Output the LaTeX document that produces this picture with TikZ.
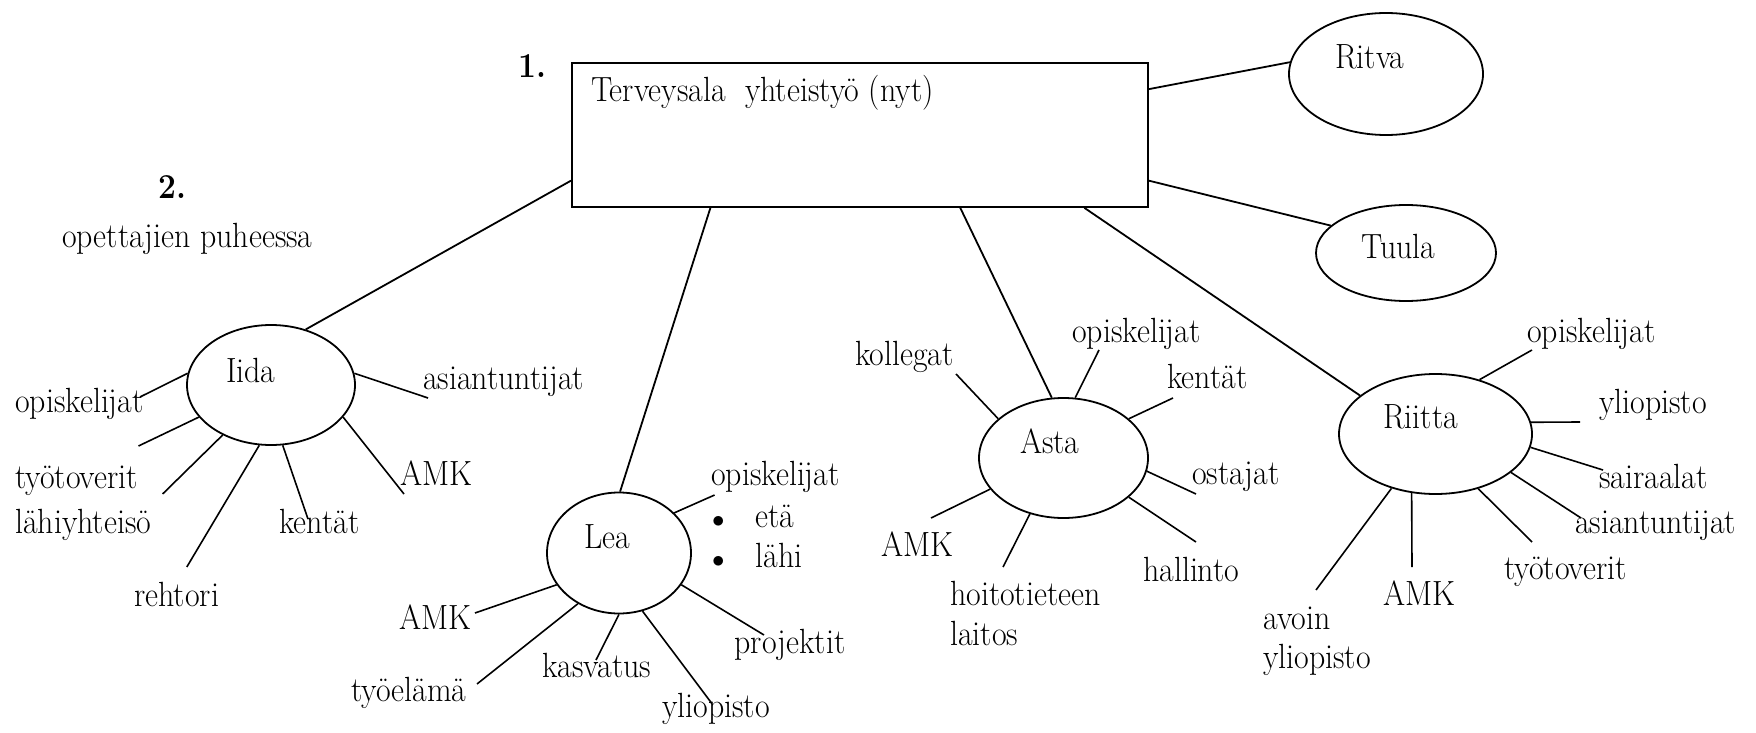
\documentclass[tikz,border=0pt]{standalone}
\usepackage{fontspec}
\setmainfont{Latin Modern Roman}[FakeStretch=0.91]
\usetikzlibrary{shapes.geometric}

\tikzset{
  lbl/.style={anchor=base west,inner sep=0pt,font=\fontsize{35}{42}\selectfont},
  numlbl/.style={anchor=base west,inner sep=0pt,font=\fontsize{35}{42}\selectfont\bfseries},
  bubble/.style={draw,ellipse,line width=1.8pt,inner sep=0pt},
  link/.style={line width=1.8pt},
  spoke/.style={line width=1.6pt},
}

\begin{document}
\begin{tikzpicture}[x=1pt,y=-1pt]
\path[use as bounding box] (0,0) rectangle (1756,733);
\fill[white] (0,0) rectangle (1756,733);

% otsikot
\node[numlbl] (n1) at (518,78) {1.};
\node[numlbl] (n2) at (158,198) {2.};
\node[lbl] (puhe) at (62,247) {opettajien puheessa};

% keskus
\node[draw,line width=1.8pt,anchor=north west,minimum width=576pt,minimum height=144pt,inner sep=0pt] (hub) at (571,62) {};
\node[lbl] (hubtxt) at (591,102) {Terveysala\ \ yhteistyö (nyt)};

% henkilöt
\node[bubble,minimum width=194pt,minimum height=122pt] (ritva) at (1386,74) {};
\node[lbl] (ritvatxt) at (1335,69) {Ritva};
\node[bubble,minimum width=180pt,minimum height=96pt] (tuula) at (1406,253) {};
\node[lbl] (tuulatxt) at (1361,258) {Tuula};
\node[bubble,minimum width=168pt,minimum height=120pt] (iida) at (271,385) {};
\node[lbl] (iidatxt) at (226,382) {Iida};
\node[bubble,minimum width=144pt,minimum height=121pt] (lea) at (619,553) {};
\node[lbl] (leatxt) at (584,548) {Lea};
\node[bubble,minimum width=169pt,minimum height=120pt] (asta) at (1063.5,458) {};
\node[lbl] (astatxt) at (1020,453) {Asta};
\node[bubble,minimum width=193pt,minimum height=120pt] (riitta) at (1435.5,434) {};
\node[lbl] (riittatxt) at (1383,428) {Riitta};

\draw[link] (hub.9.7) -- (ritva.173);
\draw[link] (hub.-9.5) -- (tuula.160);
\draw[link] (hub.189.5) -- (iida.58);
\draw[link] (hub.206.6) -- (lea.89);
\draw[link] (hub.-36.9) -- (asta.101);
\draw[link] (hub.-18.4) -- (riitta.153);

% Iida
\node[lbl] (i-opis) at (15,412) {opiskelijat};
\node[lbl] (i-tyot) at (15,488) {työtoverit};
\node[lbl] (i-lahi) at (15,533) {lähiyhteisö};
\node[lbl] (i-reht) at (134,606) {rehtori};
\node[lbl] (i-kent) at (279,533) {kentät};
\node[lbl] (i-amk) at (400,485) {AMK};
\node[lbl] (i-asia) at (423,389) {asiantuntijat};
\coordinate (i-opis-e) at (140,397);
\coordinate (i-tyot-e) at (138.5,446);
\coordinate (i-lahi-e) at (162.6,494);
\coordinate (i-reht-e) at (186.8,567);
\coordinate (i-kent-e) at (308,519);
\coordinate (i-amk-e) at (404,494);
\coordinate (i-asia-e) at (428,398);
\draw[spoke] (iida.172) -- (i-opis-e);
\draw[spoke] (iida.204) -- (i-tyot-e);
\draw[spoke] (iida.226) -- (i-lahi-e);
\draw[spoke] (iida.259) -- (i-reht-e);
\draw[spoke] (iida.281) -- (i-kent-e);
\draw[spoke] (iida.336) -- (i-amk-e);
\draw[spoke] (iida.8) -- (i-asia-e);

% Lea
\node[lbl] (l-opis) at (711,485) {opiskelijat};
\node[lbl] (l-eta) at (712,527) {$\bullet$\hspace{31pt}etä};
\node[lbl] (l-lahi) at (712,567) {$\bullet$\hspace{31pt}lähi};
\node[lbl] (l-amk) at (399,629) {AMK};
\node[lbl] (l-tyoe) at (351,701) {työelämä};
\node[lbl] (l-kasv) at (542,677) {kasvatus};
\node[lbl] (l-ylio) at (662,717) {yliopisto};
\node[lbl] (l-proj) at (734.5,653) {projektit};
\coordinate (l-opis-e) at (714.6,495);
\coordinate (l-amk-e) at (475,613);
\coordinate (l-tyoe-e) at (477,684);
\coordinate (l-kasv-e) at (596,660);
\coordinate (l-ylio-e) at (711.5,703);
\coordinate (l-proj-e) at (764,635);
\draw[spoke] (lea.36) -- (l-opis-e);
\draw[spoke] (lea.207.5) -- (l-amk-e);
\draw[spoke] (lea.231) -- (l-tyoe-e);
\draw[spoke] (lea.270) -- (l-kasv-e);
\draw[spoke] (lea.292.6) -- (l-ylio-e);
\draw[spoke] (lea.333) -- (l-proj-e);

% Asta
\node[lbl] (a-koll) at (855,365) {kollegat};
\node[lbl] (a-opis) at (1072,342) {opiskelijat};
\node[lbl] (a-kent) at (1167,388) {kentät};
\node[lbl] (a-osta) at (1192,484) {ostajat};
\node[lbl] (a-hall) at (1143,581) {hallinto};
\node[lbl] (a-hoit) at (950,605) {hoitotieteen};
\node[lbl] (a-lait) at (950,645) {laitos};
\node[lbl] (a-amk) at (881,556) {AMK};
\coordinate (a-koll-e) at (956,374);
\coordinate (a-opis-e) at (1099,350);
\coordinate (a-kent-e) at (1173,398);
\coordinate (a-osta-e) at (1196,494);
\coordinate (a-hall-e) at (1196,542);
\coordinate (a-hoit-e) at (1003,567);
\coordinate (a-amk-e) at (931,518);
\draw[spoke] (asta.149) -- (a-koll-e);
\draw[spoke] (asta.79) -- (a-opis-e);
\draw[spoke] (asta.31.4) -- (a-kent-e);
\draw[spoke] (asta.351.8) -- (a-osta-e);
\draw[spoke] (asta.329.8) -- (a-hall-e);
\draw[spoke] (asta.239.4) -- (a-hoit-e);
\draw[spoke] (asta.203) -- (a-amk-e);

% Riitta
\node[lbl] (r-opis) at (1527,342) {opiskelijat};
\node[lbl] (r-ylio) at (1599,413) {yliopisto};
\node[lbl] (r-sair) at (1599,488) {sairaalat};
\node[lbl] (r-asia) at (1575,533) {asiantuntijat};
\node[lbl] (r-tyot) at (1504,579) {työtoverit};
\node[lbl] (r-amk) at (1383,605) {AMK};
\node[lbl] (r-avoi) at (1263,629) {avoin};
\node[lbl] (r-avyl) at (1263,668) {yliopisto};
\coordinate (r-opis-e) at (1532,350);
\coordinate (r-ylio-e) at (1580,422);
\coordinate (r-sair-e) at (1603,470);
\coordinate (r-asia-e) at (1581,518);
\coordinate (r-tyot-e) at (1532,542);
\coordinate (r-amk-e) at (1412,567);
\coordinate (r-avoi-e) at (1316,590);
\draw[spoke] (riitta.51.6) -- (r-opis-e);
\draw[spoke] (riitta.7.1) -- (r-ylio-e);
\draw[spoke] (riitta.352.8) -- (r-sair-e);
\draw[spoke] (riitta.333.6) -- (r-asia-e);
\draw[spoke] (riitta.308.4) -- (r-tyot-e);
\draw[spoke] (riitta.248.6) -- (r-amk-e);
\draw[spoke] (riitta.231) -- (r-avoi-e);
\end{tikzpicture}
\end{document}
